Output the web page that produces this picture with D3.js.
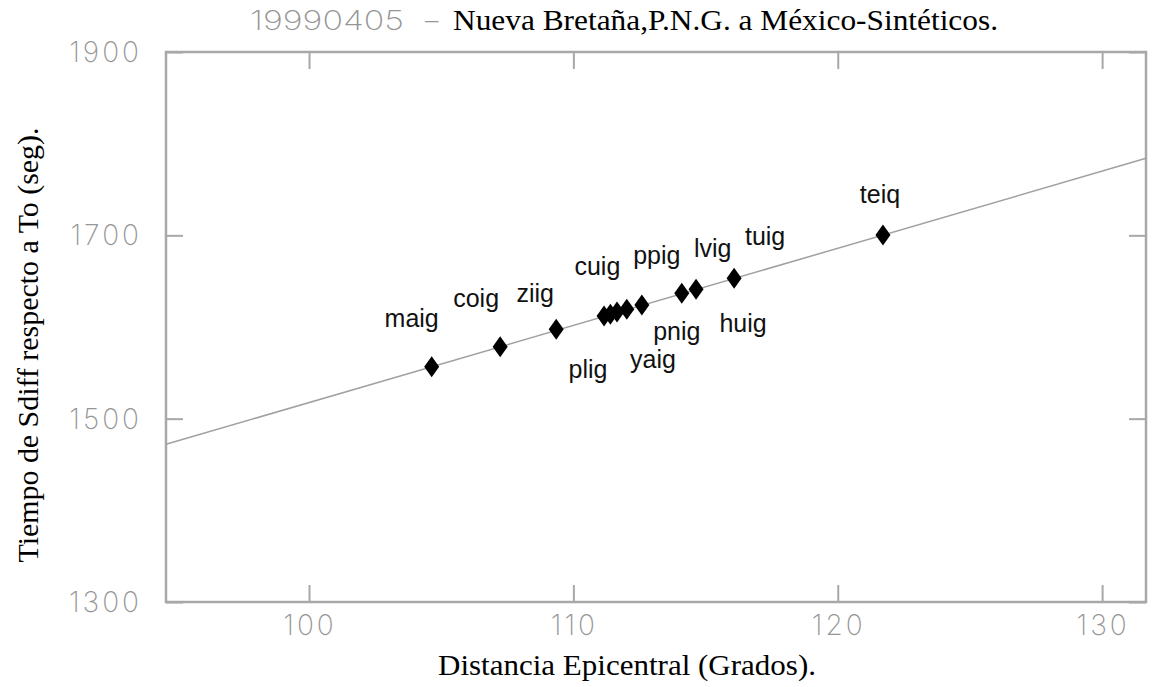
<!DOCTYPE html>
<html>
<head>
<meta charset="utf-8">
<script src="https://cdn.jsdelivr.net/npm/d3@7"></script>
<style>
  html, body { margin: 0; padding: 0; background: #fff; }
  svg { display: block; }
</style>
</head>
<body>
<svg id="chart" width="1155" height="687"></svg>
<script>
// Sdiff travel times, event 19990405 (New Britain, PNG) to Mexican stations
const stations = ["maig", "coig", "ziig", "plig", "cuig", "yaig", "ppig", "pnig", "lvig", "huig", "tuig", "teiq"];
const distances = [104.64, 107.23, 109.35, 111.16, 111.40, 111.65, 112.02, 112.59, 114.10, 114.64, 116.08, 121.71];
const times = [1556.7, 1578.5, 1597.5, 1612.0, 1614.0, 1616.5, 1619.3, 1624.0, 1636.8, 1641.3, 1653.1, 1700.4];
// fitted travel-time line (distance, time) at the plot edges
const fitDist = [94.59, 131.66];
const fitTime = [1472.0, 1784.0];
const xTicks = [100, 110, 120, 130];
const yTicks = [1300, 1500, 1700, 1900];

const svg = d3.select("#chart");
const plotL = 166, plotR = 1146, plotT = 52, plotB = 602;

const x = d3.scaleLinear().domain([94.59, 131.66]).range([plotL, plotR]);
const y = d3.scaleLinear().domain([1300, 1900]).range([plotB, plotT]);

const grey = "#a8a8a8";
const tickFont = "Inter, 'DejaVu Sans', sans-serif";
const tickColor = "#969696";

// inward ticks on all four sides
const tickLen = 17;
svg.append("g").attr("transform", `translate(0,${plotB})`)
  .call(d3.axisTop(x).tickValues(xTicks).tickSize(tickLen).tickFormat(""))
  .call(g => g.select(".domain").remove())
  .call(g => g.selectAll("line").attr("stroke", grey).attr("stroke-width", 2));
svg.append("g").attr("transform", `translate(0,${plotT})`)
  .call(d3.axisBottom(x).tickValues(xTicks).tickSize(tickLen).tickFormat(""))
  .call(g => g.select(".domain").remove())
  .call(g => g.selectAll("line").attr("stroke", grey).attr("stroke-width", 2));
svg.append("g").attr("transform", `translate(${plotL},0)`)
  .call(d3.axisRight(y).tickValues(yTicks).tickSize(tickLen).tickFormat(""))
  .call(g => g.select(".domain").remove())
  .call(g => g.selectAll("line").attr("stroke", grey).attr("stroke-width", 2));
svg.append("g").attr("transform", `translate(${plotR},0)`)
  .call(d3.axisLeft(y).tickValues(yTicks).tickSize(tickLen).tickFormat(""))
  .call(g => g.select(".domain").remove())
  .call(g => g.selectAll("line").attr("stroke", grey).attr("stroke-width", 2));

// frame
svg.append("rect")
  .attr("x", plotL).attr("y", plotT)
  .attr("width", plotR - plotL).attr("height", plotB - plotT)
  .attr("fill", "none").attr("stroke", grey).attr("stroke-width", 2.5);

// tick labels
svg.append("g").selectAll("text").data(xTicks).join("text")
  .attr("x", d => x(d) + 1).attr("y", plotB + 33)
  .attr("text-anchor", "middle")
  .attr("font-family", tickFont).attr("font-weight", 200)
  .attr("font-size", 28).attr("fill", tickColor)
  .attr("letter-spacing", 3)
  .text(d => d);
svg.append("g").selectAll("text").data(yTicks).join("text")
  .attr("x", plotL - 24).attr("y", d => y(d) + 10)
  .attr("text-anchor", "end")
  .attr("font-family", tickFont).attr("font-weight", 200)
  .attr("font-size", 28).attr("fill", tickColor)
  .attr("letter-spacing", 3)
  .text(d => d);

// fitted line
const fit = fitDist.map((d, i) => [d, fitTime[i]]);
svg.append("path")
  .datum(fit)
  .attr("d", d3.line().x(d => x(d[0])).y(d => y(d[1])))
  .attr("fill", "none").attr("stroke", "#a0a0a0").attr("stroke-width", 1.5);

// station markers
const pts = stations.map((s, i) => ({ name: s, d: distances[i], t: times[i] }));
const diamond = "M0,-10.5L7.5,0L0,10.5L-7.5,0Z";
svg.append("g").selectAll("path").data(pts).join("path")
  .attr("transform", p => `translate(${x(p.d)},${y(p.t)})`)
  .attr("d", diamond).attr("fill", "#000");

// station names, offset from their markers
const labelOffset = {
  maig: [-20, -40], coig: [-24, -40], ziig: [-21, -27], plig: [-16, 62],
  cuig: [-13, -39], yaig: [36, 56], ppig: [30, -45], pnig: [35, 35],
  lvig: [31, -36], huig: [47, 43], tuig: [31, -33], teiq: [-3, -32]
};
svg.append("g").selectAll("text").data(pts).join("text")
  .attr("x", p => x(p.d) + labelOffset[p.name][0])
  .attr("y", p => y(p.t) + labelOffset[p.name][1])
  .attr("text-anchor", "middle")
  .attr("font-family", "'Liberation Sans', Arial, sans-serif")
  .attr("font-size", 25).attr("fill", "#111")
  .text(p => p.name);

// title
const title = svg.append("text").attr("y", 30).attr("font-size", 30);
title.append("tspan")
  .attr("x", 250)
  .attr("font-family", tickFont).attr("font-weight", 200).attr("fill", tickColor)
  .attr("font-size", 27)
  .attr("textLength", 154).attr("lengthAdjust", "spacingAndGlyphs")
  .text("19990405");
title.append("tspan")
  .attr("x", 425)
  .attr("font-family", tickFont).attr("font-weight", 200).attr("fill", tickColor)
  .attr("font-size", 27)
  .text("–");
title.append("tspan")
  .attr("x", 453)
  .attr("font-family", "'Liberation Serif', 'Times New Roman', serif").attr("fill", "#000")
  .attr("textLength", 545).attr("lengthAdjust", "spacingAndGlyphs")
  .text("Nueva Bretaña,P.N.G. a México-Sintéticos.");

// axis titles
svg.append("text")
  .attr("x", 627).attr("y", 675)
  .attr("text-anchor", "middle")
  .attr("font-family", "'Liberation Serif', 'Times New Roman', serif")
  .attr("font-size", 30).attr("fill", "#000")
  .attr("textLength", 378).attr("lengthAdjust", "spacingAndGlyphs")
  .text("Distancia Epicentral (Grados).");
svg.append("text")
  .attr("transform", "translate(38,345) rotate(-90)")
  .attr("text-anchor", "middle")
  .attr("font-family", "'Liberation Serif', 'Times New Roman', serif")
  .attr("font-size", 30).attr("fill", "#000")
  .attr("textLength", 435).attr("lengthAdjust", "spacingAndGlyphs")
  .text("Tiempo de Sdiff respecto a To (seg).");
</script>
</body>
</html>
